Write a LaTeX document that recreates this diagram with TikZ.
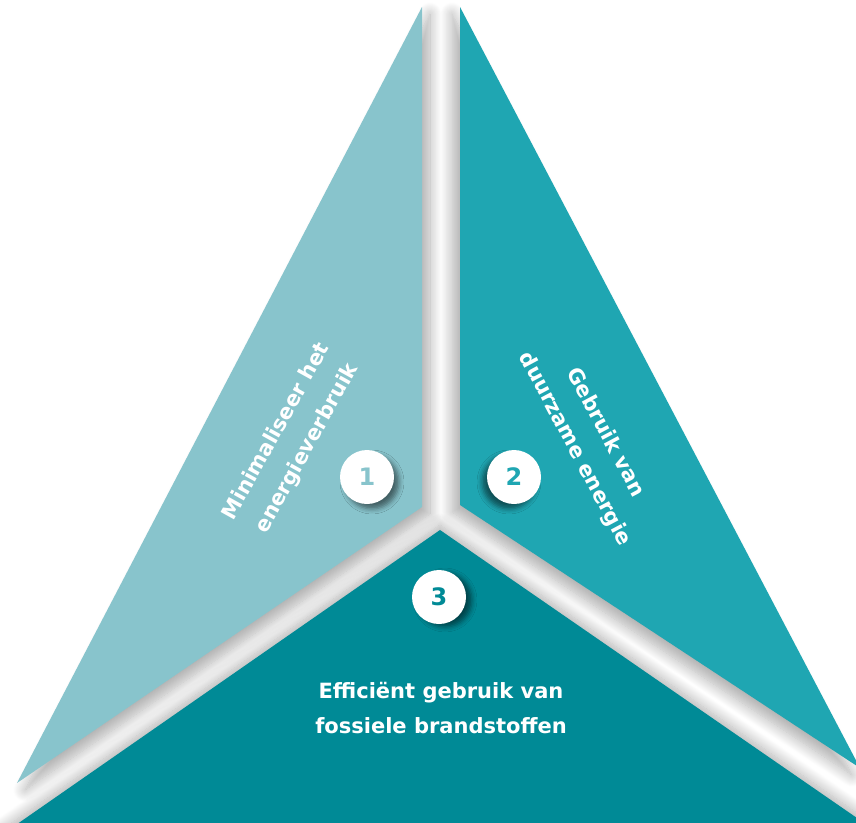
\documentclass[tikz,border=0pt]{standalone}
\usepackage{fontspec}
\setmainfont{DejaVu Sans}
\usetikzlibrary{shadows.blur}
\definecolor{pieceone}{HTML}{88C4CC}
\definecolor{piecetwo}{HTML}{1FA6B2}
\definecolor{piecethree}{HTML}{008A96}

\begin{document}
\begin{tikzpicture}[x=1pt, y=-1pt,
  piece shadow/.style 2 args={blur shadow={shadow xshift=#1, shadow yshift=#2,
    shadow blur radius=12pt, shadow blur steps=14, shadow opacity=32}},
  labeltext/.style={text=white, align=center,
    font=\fontsize{21}{35}\selectfont\bfseries},
  numcircle/.style={circle, fill=white, minimum size=54pt, inner sep=0pt,
    font=\fontsize{24}{28}\selectfont\bfseries}]
\useasboundingbox (0,0) rectangle (856,822);
\clip (0,0) rectangle (856,822);

% Shadows in the gaps
\path[piece shadow={8pt}{-7pt}] (422,7) -- (422,507) -- (17,783) -- cycle;
\path[piece shadow={-8pt}{-7pt}] (460,7) -- (460,505) -- (860,768) -- cycle;
\path[piece shadow={0pt}{5pt}] (440,530) -- (0,836) -- (0,850) -- (870,850) -- (870,827) -- cycle;

% Minimaliseer het energieverbruik
\fill[pieceone] (422,7) -- (422,507) -- (17,783) -- cycle;
% Gebruik van duurzame energie
\fill[piecetwo] (460,7) -- (460,505) -- (860,768) -- cycle;
% Efficient gebruik van fossiele brandstoffen
\fill[piecethree] (440,530) -- (0,836) -- (0,850) -- (870,850) -- (870,827) -- cycle;

% Texts
\node[labeltext, rotate=61] (minimal) at (292,440) {Minimaliseer het\\energieverbruik};
\node[labeltext, rotate=-62] (duurzaam) at (590,441) {Gebruik van\\duurzame energie};
\node[labeltext] (fossiel) at (441,708) {Efficiënt gebruik van\\fossiele brandstoffen};

% Numbers
\node[numcircle, text=pieceone, blur shadow={shadow xshift=5pt, shadow yshift=-5pt,
  shadow blur radius=5pt, shadow opacity=50}] (one) at (367,477) {1};
\node[numcircle, text=piecetwo, blur shadow={shadow xshift=-5pt, shadow yshift=-5pt,
  shadow blur radius=5pt, shadow opacity=50}] (two) at (514,477) {2};
\node[numcircle, text=piecethree, blur shadow={shadow xshift=6pt, shadow yshift=-3pt,
  shadow blur radius=5pt, shadow opacity=50}] (three) at (439,597) {3};
\end{tikzpicture}
\end{document}
